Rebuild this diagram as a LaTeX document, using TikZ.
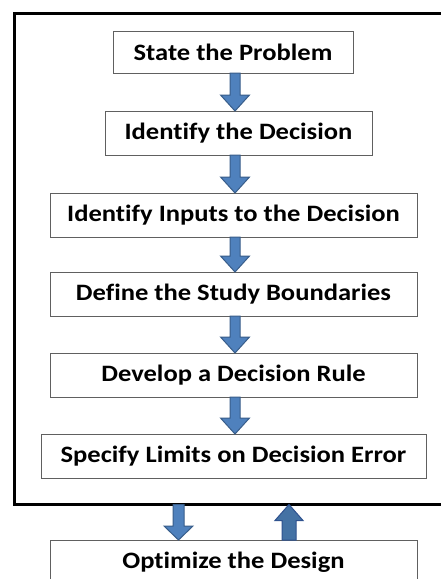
\documentclass[tikz,border=0pt]{standalone}
\usepackage{fontspec}
\setmainfont{Carlito}[FakeStretch=1.13, Ligatures=NoCommon]
\usetikzlibrary{calc}
\definecolor{arrfill}{HTML}{4F81BD}
\definecolor{arrline}{HTML}{385D8A}
\definecolor{uparrfill}{HTML}{4472A4}
\definecolor{uparrline}{HTML}{2F528F}
\definecolor{boxline}{HTML}{606060}
\tikzset{
  stepbox/.style={draw=boxline, line width=1pt, fill=white, inner sep=0pt, outer sep=0pt,
    font=\fontsize{23.5}{28}\selectfont\bfseries, align=center},
  downarr/.style={fill=arrfill, draw=arrline, line width=1pt, line join=miter},
  uparr/.style={fill=uparrfill, draw=uparrline, line width=1pt, line join=miter},
}
% #1 style, #2 start (shaft end), #3 tip, #4 half shaft, #5 half head, #6 head length (signed)
\newcommand\blockarrow[6]{%
  \draw[#1] ($(#2)+(-#4,0)$) -- ($(#3)+(-#4,#6)$) -- ($(#3)+(-#5,#6)$) -- (#3)
    -- ($(#3)+(#5,#6)$) -- ($(#3)+(#4,#6)$) -- ($(#2)+(#4,0)$) -- cycle;}
\begin{document}
\begin{tikzpicture}[x=1pt,y=-1pt]
\clip (0,0) rectangle (441,579);
\fill[white] (0,0) rectangle (441,579);
\node[draw, line width=3pt, minimum width=446pt, minimum height=491pt, inner sep=0pt, outer sep=0pt, anchor=north west] (frame) at (14,13.5) {};
\node[stepbox, minimum width=240pt, minimum height=42pt] (b1) at (233,52) {State the Problem};
\node[stepbox, minimum width=267pt, minimum height=44pt] (b2) at (238.5,133) {Identify the Decision};
\node[stepbox, minimum width=367pt, minimum height=44pt] (b3) at (233.5,215) {Identify Inputs to the Decision};
\node[stepbox, minimum width=367pt, minimum height=44pt] (b4) at (233.5,294) {Define the Study Boundaries};
\node[stepbox, minimum width=367pt, minimum height=44pt] (b5) at (233.5,375) {Develop a Decision Rule};
\node[stepbox, minimum width=385pt, minimum height=44pt] (b6) at (233.5,456) {Specify Limits on Decision Error};
\node[stepbox, minimum width=367pt, minimum height=44pt] (b7) at (233.5,562) {Optimize the Design};
\coordinate (ax) at (235,0);
\coordinate (dx) at (178.5,0);
\coordinate (ux) at (289,0);
\blockarrow{downarr}{b1.south -| ax}{b2.north -| ax}{5}{14.5}{-16}
\blockarrow{downarr}{b2.south -| ax}{b3.north -| ax}{5}{14.5}{-16}
\blockarrow{downarr}{b3.south -| ax}{b4.north -| ax}{5}{14.5}{-16}
\blockarrow{downarr}{b4.south -| ax}{b5.north -| ax}{5}{14.5}{-16}
\blockarrow{downarr}{b5.south -| ax}{b6.north -| ax}{5}{14.5}{-16}
\blockarrow{downarr}{frame.south -| dx}{b7.north -| dx}{5.5}{14.5}{-14}
\blockarrow{uparr}{b7.north -| ux}{frame.south -| ux}{7}{14}{16}
\end{tikzpicture}
\end{document}
